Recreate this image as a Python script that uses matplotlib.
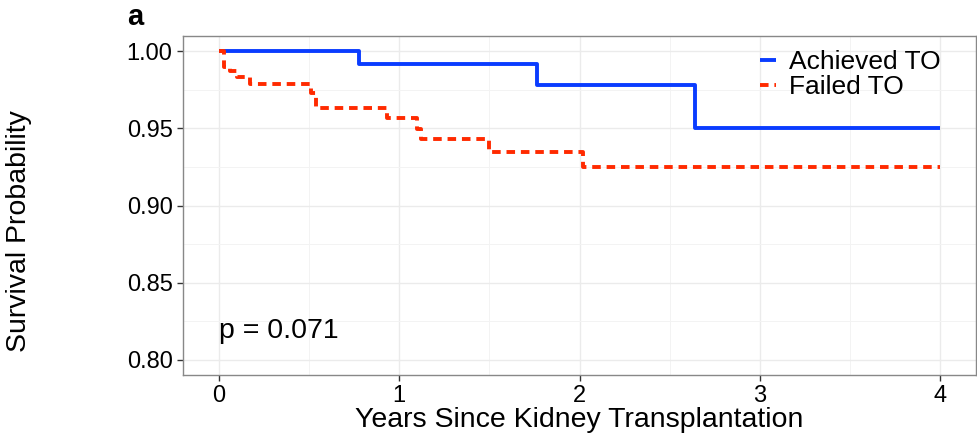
import numpy as np
import matplotlib

matplotlib.use("Agg")
import matplotlib.pyplot as plt

plt.rcParams["font.family"] = ["Liberation Sans", "DejaVu Sans"]

# Kaplan-Meier step data
achieved_t = [0.0, 0.776, 1.762, 2.643, 4.0]
achieved_s = [1.0, 0.992, 0.978, 0.9505, 0.9505]

failed_t = [0.0, 0.03, 0.06, 0.10, 0.17, 0.51, 0.54, 0.93, 1.10, 1.12, 1.50, 2.02, 4.0]
failed_s = [1.0, 0.990, 0.987, 0.983, 0.979, 0.973, 0.963, 0.957, 0.9495, 0.943, 0.935, 0.925, 0.925]

group_names = ["Achieved TO", "Failed TO"]
p_text = "p = 0.071"

fig = plt.figure(figsize=(9.77, 4.36), dpi=100)
ax = fig.add_axes([0.1873, 0.14, 0.8117, 0.777])

ax.step(achieved_t, achieved_s, where="post", color="#0a3cff", lw=2.8,
        label=group_names[0], solid_capstyle="butt")
ax.step(failed_t, failed_s, where="post", color="#ff2a00", lw=2.8,
        ls=(0, (2.2, 1.5)), label=group_names[1])

ax.set_xlim(-0.2, 4.2)
ax.set_ylim(0.7903, 1.0097)
ax.set_xticks([0, 1, 2, 3, 4])
ax.set_xticks([0.5, 1.5, 2.5, 3.5], minor=True)
ax.set_yticks([0.80, 0.85, 0.90, 0.95, 1.00])
ax.set_yticklabels(["0.80", "0.85", "0.90", "0.95", "1.00"])
ax.set_yticks([0.825, 0.875, 0.925, 0.975], minor=True)
ax.grid(which="major", color="#ebebeb", lw=1.0)
ax.grid(which="minor", color="#f3f3f3", lw=0.7)
ax.set_axisbelow(True)
for s in ax.spines.values():
    s.set_color("#888888")
    s.set_linewidth(1.0)
ax.tick_params(which="major", labelsize=17, colors="#333333", labelcolor="black",
               length=4, width=1)
ax.tick_params(which="minor", length=0)

ax.set_xlabel("Years Since Kidney Transplantation", fontsize=20.5, labelpad=0)
fig.text(0.019, 0.47, "Survival Probability", rotation=90, fontsize=20.5,
         ha="center", va="center")
ax.text(0.0, 0.8185, p_text, fontsize=20.5, ha="left", va="center")
fig.text(0.13, 0.962, "a", fontsize=21, fontweight="bold", ha="left", va="center")

leg = ax.legend(loc="upper right", bbox_to_anchor=(0.975, 1.005), frameon=False,
                fontsize=19, handlelength=0.6, handletextpad=0.5,
                labelspacing=0.02, borderaxespad=0.2)

fig.savefig("out.png", dpi=100)
